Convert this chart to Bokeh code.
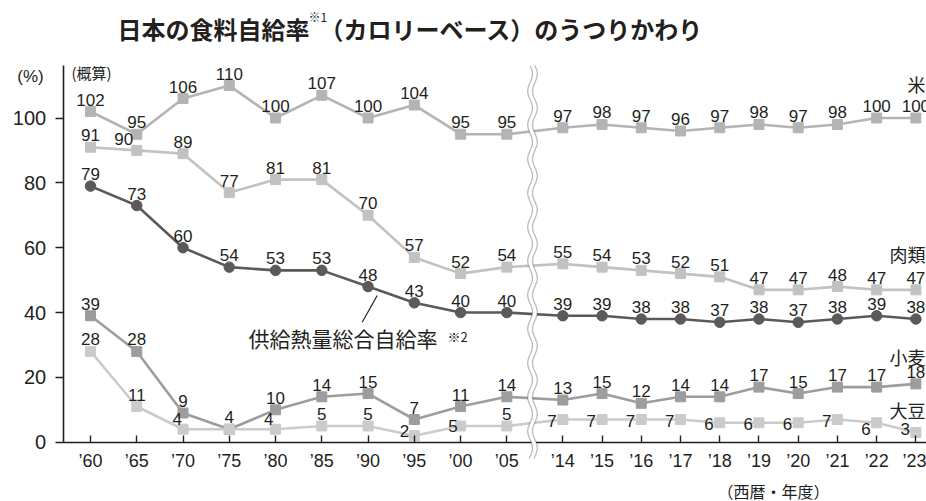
from bokeh.plotting import figure
from bokeh.models import Range1d, FixedTicker, Label, PolyAnnotation, ColumnDataSource
from bokeh.embed import file_html
from bokeh.resources import INLINE
from bokeh.core.properties import value
import numpy as np

# ---------------- data ----------------
years_left = ["’60", "’65", "’70", "’75", "’80", "’85", "’90", "’95", "’00", "’05"]
years_right = ["’14", "’15", "’16", "’17", "’18", "’19", "’20", "’21", "’22", "’23"]
rice = [102, 95, 106, 110, 100, 107, 100, 104, 95, 95, 97, 98, 97, 96, 97, 98, 97, 98, 100, 100]
meat = [91, 90, 89, 77, 81, 81, 70, 57, 52, 54, 55, 54, 53, 52, 51, 47, 47, 48, 47, 47]
total = [79, 73, 60, 54, 53, 53, 48, 43, 40, 40, 39, 39, 38, 38, 37, 38, 37, 38, 39, 38]
wheat = [39, 28, 9, 4, 10, 14, 15, 7, 11, 14, 13, 15, 12, 14, 14, 17, 15, 17, 17, 18]
soy = [28, 11, 4, 4, 4, 5, 5, 2, 5, 5, 7, 7, 7, 7, 6, 6, 6, 7, 6, 3]
y_ticks = [0, 20, 40, 60, 80, 100]
series_names = ["米", "肉類", "小麦", "大豆"]

# ---------------- layout ----------------
W, H = 926, 501
PXX, PXY = 46.26, 3.242          # pixels per x unit / per y unit
ORIG_X, ORIG_Y = 90.0, 441.7     # pixel position of first year / of value 0
X0, X1 = -ORIG_X / PXX, (W - ORIG_X) / PXX
Y0, Y1 = -(H - ORIG_Y) / PXY, ORIG_Y / PXY
AXIS_TOP = 116.3
GAP, RSTEP = 1.21, 0.848
xs = [float(i) for i in range(len(years_left))] + \
     [round(len(years_left) - 1 + GAP + RSTEP * j, 4) for j in range(len(years_right))]
labels_all = years_left + years_right


def dx(px):
    return X0 + px / PXX


def dy(py):
    return Y1 - py / PXY


Y_AXIS_X = dx(62.7)

TXT = "#231f20"
FONT = "Liberation Sans"
JFONT = "Noto Sans CJK JP"
C_RICE, C_MEAT, C_TOTAL, C_WHEAT, C_SOY = "#b4b4b4", "#c2c2c2", "#5a5a5a", "#9d9d9d", "#cbcbcb"

p = figure(width=W, height=H, x_range=Range1d(X0, X1), y_range=Range1d(Y0, Y1),
           output_backend="svg", toolbar_location=None, title=None, min_border=0)
p.grid.visible = False
p.outline_line_color = None
p.background_fill_color = "white"
p.border_fill_color = "white"

# axes (fixed inside the frame, with bounds)
xa = p.xaxis[0]
xa.fixed_location = 0
xa.bounds = (Y_AXIS_X, X1)
xa.ticker = FixedTicker(ticks=xs)
xa.major_label_overrides = {x: l for x, l in zip(xs, labels_all)}
xa.major_tick_in = 7
xa.major_tick_out = 0
xa.minor_tick_line_color = None
xa.axis_line_width = 1.6
xa.major_tick_line_width = 1.4
xa.axis_line_color = TXT
xa.major_tick_line_color = TXT
xa.major_label_text_font = FONT
xa.major_label_text_font_size = "18px"
xa.major_label_text_color = TXT
xa.major_label_standoff = 9

ya = p.yaxis[0]
ya.fixed_location = Y_AXIS_X
ya.bounds = (0, AXIS_TOP)
ya.ticker = FixedTicker(ticks=y_ticks)
ya.major_tick_in = 0
ya.major_tick_out = 8
ya.minor_tick_line_color = None
ya.axis_line_width = 1.6
ya.major_tick_line_width = 1.4
ya.axis_line_color = TXT
ya.major_tick_line_color = TXT
ya.major_label_text_font = FONT
ya.major_label_text_font_size = "20px"
ya.major_label_text_color = TXT
ya.major_label_standoff = 9

# lines + markers
for data, col, mk in [(rice, C_RICE, "square"), (meat, C_MEAT, "square"),
                      (wheat, C_WHEAT, "square"), (soy, C_SOY, "square"),
                      (total, C_TOTAL, "circle")]:
    p.line(xs, data, line_color=col, line_width=2.6)
    p.scatter(xs, data, marker=mk, size=10 if mk == "square" else 10.5,
              fill_color=col, line_color=col)

# value labels
n = len(xs)


def lab(data, skip=(), special=None):
    special = special or {}
    rows = []
    for i in range(n):
        if i in skip:
            continue
        a, ox, oy = special.get(i, ("center", 0, -12))
        rows.append((xs[i], data[i], str(data[i]), a, ox, oy))
    return rows


rows = []
rows += lab(rice)
rows += lab(meat, special={1: ("center", -13, -11)})
rows += lab(total)
rows += lab(wheat)
soy_sp = {2: ("right", -1, -10), 4: ("right", -2, -10),
          7: ("right", -5, -5), 8: ("right", -3, 0)}
for j in range(10, 20):
    soy_sp[j] = ("right", -6, 1)
soy_sp[18] = ("right", -6, 6)
soy_sp[19] = ("right", -6, -3)
rows += lab(soy, skip=(3,), special=soy_sp)

src = ColumnDataSource(dict(
    x=[r[0] for r in rows], y=[r[1] for r in rows], t=[r[2] for r in rows],
    a=[r[3] for r in rows], ox=[r[4] for r in rows], oy=[r[5] for r in rows]))
p.text(x="x", y="y", text="t", source=src, text_align="a", text_baseline="middle",
       x_offset="ox", y_offset="oy", text_font=value(FONT), text_font_size="17px",
       text_color=TXT)

# break marks (wavy double line)
t = np.linspace(65, 458, 240)
wave = 2.4 * np.sin(2 * np.pi * (t - 65) / 34.0)
left_c = [dx(532 - 2.4 + w) for w in wave]
right_c = [dx(532 + 2.4 + w) for w in wave]
yy = [dy(v) for v in t]
p.add_layout(PolyAnnotation(xs=left_c + right_c[::-1], ys=yy + yy[::-1],
                            fill_color="white", fill_alpha=1, line_color=None))
for c in (left_c, right_c):
    p.add_layout(PolyAnnotation(xs=c + c[::-1], ys=yy + yy[::-1],
                                fill_alpha=0, line_color=TXT, line_width=1.3))

# leader line for total label
p.segment(x0=[dx(361.7)], y0=[dy(321.7)], x1=[dx(376.7)], y1=[dy(295)],
          line_color=TXT, line_width=1.2)


def add_label(text, px, py, size, font=JFONT, align="left", style="normal"):
    p.add_layout(Label(x=dx(px), y=dy(py), text=text, text_font=font,
                       text_font_size=size, text_align=align, text_baseline="middle",
                       text_color=TXT, text_font_style=style))


add_label("供給熱量総合自給率", 248, 337, "21px")
add_label("※2", 447, 336, "13px")
for name, py in zip(series_names, [83, 253, 356.5, 409]):
    add_label(name, 925, py, "18px", align="right")
add_label("(%)", 30, 76, "17px", font=FONT, align="center")
add_label("(概算)", 71, 71.5, "15px")
add_label("（西暦・年度）", 773, 490, "16px", align="center")
add_label("日本の食料自給率", 117, 28, "24px", style="bold")
add_label("※1", 308, 16, "12px")
add_label("（カロリーベース）のうつりかわり", 319, 28, "24px", style="bold")

open("out.html", "w").write(file_html(p, INLINE))
